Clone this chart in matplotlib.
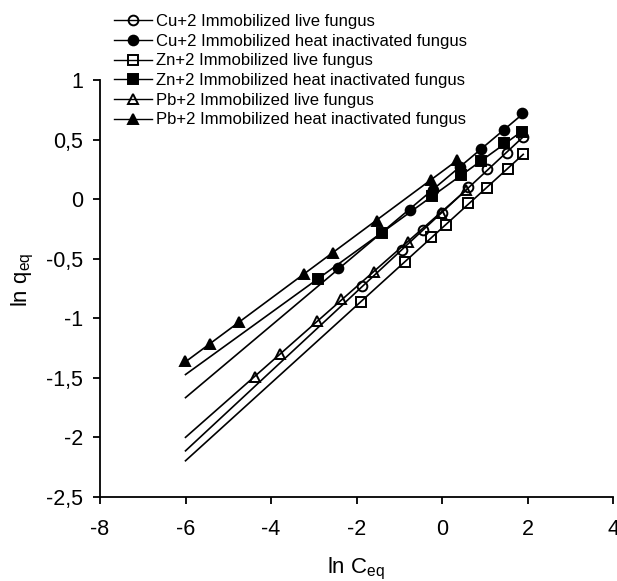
import numpy as np
import matplotlib
matplotlib.use("Agg")
import matplotlib.pyplot as plt
from matplotlib.lines import Line2D
from matplotlib.ticker import FuncFormatter

plt.rcParams['font.family'] = ['Liberation Sans', 'DejaVu Sans']

# ln Ceq / ln qeq values
cu_live_x = [-1.87, -0.94, -0.44, 0.00, 0.60, 1.05, 1.52, 1.90]
cu_live_y = [-0.73, -0.43, -0.26, -0.12, 0.10, 0.25, 0.39, 0.52]

cu_heat_x = [-2.43, -0.75, -0.20, 0.42, 0.92, 1.45, 1.87]
cu_heat_y = [-0.58, -0.09, 0.08, 0.27, 0.42, 0.58, 0.72]

zn_live_x = [-1.90, -0.87, -0.25, 0.10, 0.60, 1.05, 1.54, 1.90]
zn_live_y = [-0.86, -0.53, -0.32, -0.22, -0.03, 0.095, 0.25, 0.38]

zn_heat_x = [-2.90, -1.40, -0.23, 0.45, 0.92, 1.45, 1.87]
zn_heat_y = [-0.67, -0.28, 0.03, 0.20, 0.32, 0.47, 0.56]

pb_live_x = [-4.37, -3.79, -2.92, -2.36, -1.59, -0.80, -0.02, 0.55]
pb_live_y = [-1.49, -1.30, -1.02, -0.84, -0.61, -0.36, -0.12, 0.08]

pb_heat_x = [-6.01, -5.43, -4.75, -3.23, -2.55, -1.52, -0.26, 0.34]
pb_heat_y = [-1.36, -1.22, -1.03, -0.63, -0.45, -0.18, 0.16, 0.33]

labels = ["Cu+2 Immobilized live fungus",
          "Cu+2 Immobilized heat inactivated fungus",
          "Zn+2 Immobilized live fungus",
          "Zn+2 Immobilized heat inactivated fungus",
          "Pb+2 Immobilized live fungus",
          "Pb+2 Immobilized heat inactivated fungus"]

series = [(cu_live_x, cu_live_y, 'o', 'none'),
          (cu_heat_x, cu_heat_y, 'o', 'black'),
          (zn_live_x, zn_live_y, 's', 'none'),
          (zn_heat_x, zn_heat_y, 's', 'black'),
          (pb_live_x, pb_live_y, '^', 'none'),
          (pb_heat_x, pb_heat_y, '^', 'black')]

fit_start = -6  # trend lines are drawn from ln Ceq = -6

fig = plt.figure(figsize=(6.17, 5.81), dpi=100)
ax = fig.add_axes([100/617, 1 - 497/581, 513/617, 417/581])

handles = []
for (x, y, m, fc), lab in zip(series, labels):
    slope, icpt = np.polyfit(x, y, 1)
    xx = np.array([fit_start, max(x)])
    ax.plot(xx, slope*xx + icpt, color='black', lw=1.2, zorder=2)
    ax.plot(x, y, ls='none', marker=m, ms=7, mfc=fc, mec='black', mew=1.4, zorder=3)
    handles.append(Line2D([], [], color='black', lw=1.0, marker=m, ms=7,
                          mfc=fc, mec='black', mew=1.4, label=lab))

ax.set_xlim(-8, 4)
ax.set_ylim(-2.5, 1)
ax.set_xticks([-8, -6, -4, -2, 0, 2, 4])
ax.set_yticks([-2.5, -2, -1.5, -1, -0.5, 0, 0.5, 1])
fmt = FuncFormatter(lambda v, p: f"{v:g}".replace('.', ','))
ax.xaxis.set_major_formatter(fmt)
ax.yaxis.set_major_formatter(fmt)

for s in ['top', 'right']:
    ax.spines[s].set_visible(False)
for s in ['left', 'bottom']:
    ax.spines[s].set_linewidth(1.3)
    ax.spines[s].set_clip_on(False)

ax.tick_params(axis='both', direction='out', length=5, width=1.3, labelsize=15.5)
ax.tick_params(axis='x', pad=11)
ax.tick_params(axis='y', pad=7)

ax.set_xlabel(r'ln C$_{\mathregular{eq}}$', fontsize=16)
ax.set_ylabel(r'ln q$_{\mathregular{eq}}$', fontsize=16)
ax.xaxis.set_label_coords(0.5, -0.142)
ax.yaxis.set_label_coords(-0.125, 0.52)

fig.legend(handles=handles, loc='upper left', bbox_to_anchor=(114/617, 1 - 14/581),
           frameon=False, fontsize=12, handlelength=2.3, handletextpad=0.2,
           labelspacing=0.28, borderpad=0, borderaxespad=0)

plt.savefig("out.png", dpi=100)
